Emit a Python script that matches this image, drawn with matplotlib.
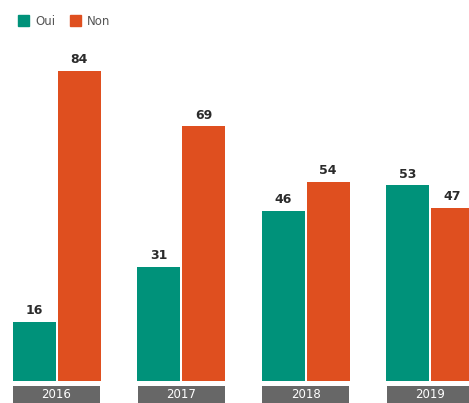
import matplotlib.pyplot as plt
from matplotlib.patches import Patch

years = ['2016', '2017', '2018', '2019']
oui = [16, 31, 46, 53]
non = [84, 69, 54, 47]

teal = '#00927a'
orange = '#df4f1f'
gray = '#676767'

fig = plt.figure(figsize=(4.69, 4.03), dpi=100)
ax = fig.add_axes([0, 22 / 403, 1, 381 / 403])

px = 124.5  # pixels per group
ax.set_xlim(-56.5 / px, (469 - 56.5) / px)
ax.set_ylim(0, 381 / 3.69)

x = range(len(years))
w = 43 / px
off = 22.5 / px
b1 = ax.bar([i - off for i in x], oui, width=w, color=teal)
b2 = ax.bar([i + off for i in x], non, width=w, color=orange)

for bars, vals in ((b1, oui), (b2, non)):
    for bar, v in zip(bars, vals):
        ax.annotate(str(v), (bar.get_x() + bar.get_width() / 2, v),
                    xytext=(0, 3.5), textcoords='offset points',
                    ha='center', va='bottom', fontsize=9,
                    fontweight='bold', color='#2b2b2b')

# year label boxes under the bars
ax.bar(list(x), [-4.7] * 4, bottom=-1.36, width=87 / px, color=gray,
       clip_on=False)
for i, y in zip(x, years):
    ax.text(i, -3.7, y, ha='center', va='center', color='white',
            fontsize=8.5, clip_on=False)

for s in ax.spines.values():
    s.set_visible(False)
ax.set_xticks([])
ax.set_yticks([])

handles = [Patch(color=teal, label='Oui'), Patch(color=orange, label='Non')]
fig.legend(handles=handles, loc='upper left', bbox_to_anchor=(0.015, 0.99),
           ncol=2, frameon=False, fontsize=8.5, handlelength=1.0,
           handleheight=1.0, handletextpad=0.5, columnspacing=1.2,
           labelcolor='#555555')

fig.savefig('out.png', dpi=100)
